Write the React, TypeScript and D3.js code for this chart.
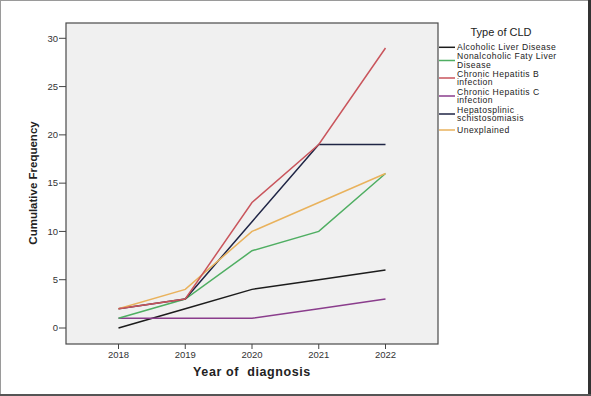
import React from "react";
import * as d3 from "d3";

const years = [2018, 2019, 2020, 2021, 2022];
const yTicks = [0, 5, 10, 15, 20, 25, 30];
const seriesNames = [
  ["Alcoholic Liver Disease"],
  ["Nonalcoholic Faty Liver", "Disease"],
  ["Chronic Hepatitis B", "infection"],
  ["Chronic Hepatitis C", "infection"],
  ["Hepatosplinic", "schistosomiasis"],
  ["Unexplained"],
];
const alcoholic = [0, 2, 4, 5, 6];
const nafld = [1, 3, 8, 10, 16];
const hepB = [2, 3, 13, 19, 29];
const hepC = [1, 1, 1, 2, 3];
const schisto = [2, 3, 11, 19, 19];
const unexplained = [2, 4, 10, 13, 16];
const seriesValues = [alcoholic, nafld, hepB, hepC, schisto, unexplained];
const colors = ["#1c1c1c", "#4fae62", "#c9555c", "#8a3d8c", "#1f2545", "#e9b25c"];
const drawOrder = [0, 3, 1, 4, 5, 2];

export default function App() {
  const W = 591, H = 396;
  const plot = { left: 66, right: 438, top: 23, bottom: 344 };
  const x = d3.scaleLinear().domain([2018, 2022]).range([118.5, 385.5]);
  const y = d3.scaleLinear().domain([0, 30]).range([328, 38.3]);
  const line = d3
    .line<number>()
    .x((_, i) => x(years[i]))
    .y((d) => y(d));

  const legendY = [47.3, 60.5, 78, 96, 114, 130];
  const font = "'Liberation Sans', Arial, sans-serif";

  return (
    <svg
      width={W}
      height={H}
      style={{ position: "absolute", left: 0, top: 0, fontFamily: font }}
    >
      <rect x={0} y={0} width={W} height={H} fill="#fff" />
      <rect x={0.5} y={0.5} width={W - 2} height={H - 2} fill="none" stroke="#9a9a9a" strokeWidth={1} />
      <line x1={W - 1.5} y1={0} x2={W - 1.5} y2={H} stroke="#333" strokeWidth={3} />
      <line x1={0} y1={H - 1} x2={W} y2={H - 1} stroke="#555" strokeWidth={2} />

      <rect
        x={plot.left}
        y={plot.top}
        width={plot.right - plot.left}
        height={plot.bottom - plot.top}
        fill="#f0f0f0"
        stroke="#4a4a4a"
        strokeWidth={1.2}
      />

      {yTicks.map((t) => (
        <g key={t}>
          <line x1={plot.left - 7} x2={plot.left} y1={y(t)} y2={y(t)} stroke="#444" strokeWidth={1} />
          <text
            x={plot.left - 8}
            y={y(t)}
            dy="0.35em"
            textAnchor="end"
            fontSize={9.5}
            fill="#333"
          >
            {t}
          </text>
        </g>
      ))}
      {years.map((yr) => (
        <g key={yr}>
          <line x1={x(yr)} x2={x(yr)} y1={plot.bottom} y2={plot.bottom + 5} stroke="#444" strokeWidth={1} />
          <text x={x(yr)} y={357.5} textAnchor="middle" fontSize={9.5} fill="#333">
            {yr}
          </text>
        </g>
      ))}

      <text
        x={252}
        y={376}
        textAnchor="middle"
        fontSize={12.5}
        fontWeight="bold"
        fill="#222"
        letterSpacing={0.6}
        style={{ whiteSpace: "pre" }}
      >
        {"Year of  diagnosis"}
      </text>
      <text
        transform={`translate(37,183) rotate(-90)`}
        textAnchor="middle"
        fontSize={11.5}
        fontWeight="bold"
        fill="#222"
      >
        Cumulative Frequency
      </text>

      {drawOrder.map((si) => (
        <path
          key={si}
          d={line(seriesValues[si]) || ""}
          fill="none"
          stroke={colors[si]}
          strokeWidth={1.5}
        />
      ))}

      <text x={501} y={36} textAnchor="middle" fontSize={11} fill="#222">
        Type of CLD
      </text>
      {seriesNames.map((lines, i) => {
        const cy = legendY[i];
        const n = lines.length;
        return (
          <g key={i}>
            <line x1={439} x2={455} y1={cy} y2={cy} stroke={colors[i]} strokeWidth={1.5} />
            {lines.map((l, j) => (
              <text
                key={j}
                x={457}
                y={cy + (j - (n - 1) / 2) * 8.6}
                dy="0.35em"
                fontSize={8.6}
                letterSpacing={0.45}
                fill="#222"
              >
                {l}
              </text>
            ))}
          </g>
        );
      })}
    </svg>
  );
}
